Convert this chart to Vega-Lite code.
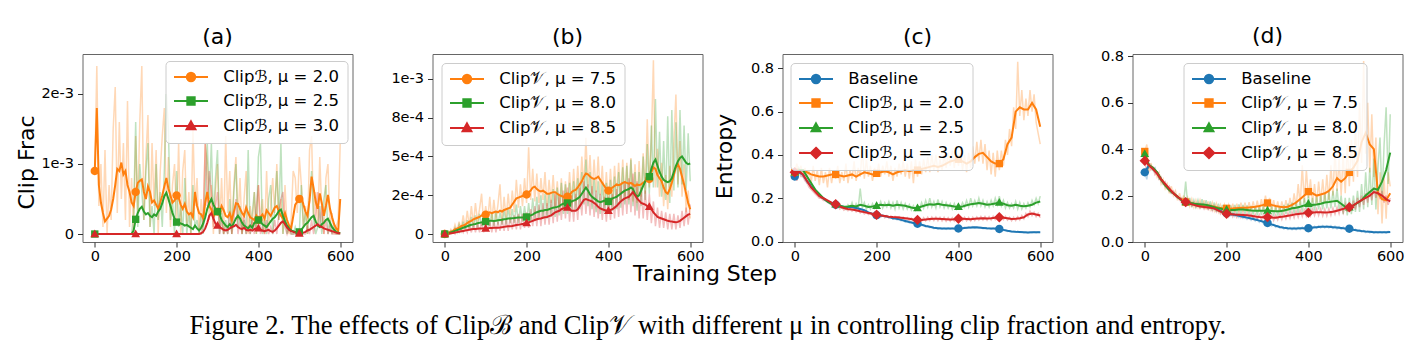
{
"$schema": "https://vega.github.io/schema/vega-lite/v6.json",
"padding": {"left": 14.5, "top": 24, "right": 5, "bottom": 5},
"background": "white",
"spacing": 80,
"bounds": "flush",
"title": {"text": "Figure 2. The effects of Clipℬ and Clip𝒱 with different μ in controlling clip fraction and entropy.", "orient": "bottom", "anchor": "middle", "frame": "bounds", "font": "Liberation Serif", "fontSize": 26.5, "fontWeight": "normal", "color": "#000", "baseline": "alphabetic", "offset": 49, "dx": -2},
"config": {
  "view": {"stroke": "#666", "strokeWidth": 1},
  "font": "DejaVu Sans",
  "axis": {"grid": false, "domain": false, "ticks": true, "tickColor": "#333", "tickSize": 5, "tickWidth": 1, "labelFont": "DejaVu Sans", "labelFontSize": 14.5, "labelColor": "#000", "titleFont": "DejaVu Sans", "titleFontSize": 22, "titleFontWeight": "normal", "titleColor": "#000"},
  "axisX": {"labelPadding": 2},
  "axisY": {"labelPadding": 4},
  "title": {"font": "DejaVu Sans", "fontSize": 22, "fontWeight": "normal", "color": "#000", "offset": 5, "baseline": "alphabetic", "frame": "group", "anchor": "middle"},
  "legend": {"labelFont": "DejaVu Sans", "labelFontSize": 16.5, "labelColor": "#000", "symbolSize": 64, "symbolStrokeWidth": 2, "symbolOffset": 9.5, "labelOffset": 24, "rowPadding": 7, "padding": 7.75, "fillColor": "rgba(255,255,255,0.8)", "strokeColor": "#cccccc", "cornerRadius": 4, "orient": "none"}
},
"datasets": {
"aS": [
{"x":0,"a":9e-4,"b":0,"c":0},{"x":5,"a":18e-4,"b":0,"c":0},{"x":10,"a":7e-4,"b":0,"c":0},{"x":15,"a":4.5e-4,"b":0,"c":0},{"x":20,"a":3e-4,"b":0,"c":0},{"x":25,"a":1.8e-4,"b":0,"c":0},{"x":30,"a":2.2e-4,"b":0,"c":0},{"x":35,"a":2.6e-4,"b":0,"c":0},{"x":40,"a":3.5e-4,"b":0,"c":0},{"x":45,"a":5e-4,"b":0,"c":0},
{"x":50,"a":7e-4,"b":0,"c":0},{"x":55,"a":9.3e-4,"b":0,"c":0},{"x":60,"a":9e-4,"b":0,"c":0},{"x":65,"a":10.2e-4,"b":0,"c":0},{"x":70,"a":8.5e-4,"b":0,"c":0},{"x":75,"a":9e-4,"b":0,"c":0},{"x":80,"a":7e-4,"b":0,"c":0},{"x":85,"a":6e-4,"b":0,"c":0},{"x":90,"a":4.5e-4,"b":0,"c":0},{"x":95,"a":4e-4,"b":0.5e-4,"c":0},
{"x":100,"a":6e-4,"b":2.1e-4,"c":0},{"x":105,"a":7.3e-4,"b":3e-4,"c":0},{"x":110,"a":7.6e-4,"b":3.6e-4,"c":0},{"x":115,"a":7.8e-4,"b":3.9e-4,"c":0},{"x":120,"a":6e-4,"b":3.2e-4,"c":0},{"x":125,"a":5e-4,"b":2.8e-4,"c":0},{"x":130,"a":6.8e-4,"b":3e-4,"c":0},{"x":135,"a":6e-4,"b":2.6e-4,"c":0},{"x":140,"a":4.5e-4,"b":2.4e-4,"c":0},{"x":145,"a":4.8e-4,"b":2.8e-4,"c":0},
{"x":150,"a":4.2e-4,"b":2.6e-4,"c":0},{"x":155,"a":3.6e-4,"b":3.2e-4,"c":0},{"x":160,"a":4.5e-4,"b":3.6e-4,"c":0},{"x":165,"a":5.5e-4,"b":4.4e-4,"c":0},{"x":170,"a":6.8e-4,"b":5.4e-4,"c":0},{"x":175,"a":8e-4,"b":5.9e-4,"c":0},{"x":180,"a":6.5e-4,"b":5e-4,"c":0},{"x":185,"a":5.5e-4,"b":4e-4,"c":0},{"x":190,"a":4.5e-4,"b":3e-4,"c":0},{"x":195,"a":4.8e-4,"b":2.2e-4,"c":0},
{"x":200,"a":5.5e-4,"b":1.7e-4,"c":0},{"x":205,"a":5.2e-4,"b":1.6e-4,"c":0},{"x":210,"a":4.2e-4,"b":1.5e-4,"c":0},{"x":215,"a":3.6e-4,"b":1.4e-4,"c":0},{"x":220,"a":4.3e-4,"b":1.2e-4,"c":0},{"x":225,"a":3.2e-4,"b":1.3e-4,"c":0},{"x":230,"a":2.8e-4,"b":1.1e-4,"c":0},{"x":235,"a":3e-4,"b":0.9e-4,"c":0},{"x":240,"a":2.4e-4,"b":0.7e-4,"c":0},{"x":245,"a":6e-4,"b":1.2e-4,"c":0},
{"x":250,"a":4e-4,"b":0.8e-4,"c":0},{"x":255,"a":3e-4,"b":0.5e-4,"c":0},{"x":260,"a":2.8e-4,"b":0.9e-4,"c":0.1e-4},{"x":265,"a":2.2e-4,"b":1.5e-4,"c":0.3e-4},{"x":270,"a":4.5e-4,"b":2.4e-4,"c":0.8e-4},{"x":275,"a":6e-4,"b":3.6e-4,"c":1.6e-4},{"x":280,"a":4e-4,"b":4.4e-4,"c":2.6e-4},{"x":285,"a":3.5e-4,"b":5e-4,"c":3e-4},{"x":290,"a":2.5e-4,"b":4.2e-4,"c":2.2e-4},{"x":295,"a":3e-4,"b":3.6e-4,"c":1.5e-4},
{"x":300,"a":3.2e-4,"b":3.2e-4,"c":1.2e-4},{"x":305,"a":3e-4,"b":2.8e-4,"c":1e-4},{"x":310,"a":4e-4,"b":2e-4,"c":0.8e-4},{"x":315,"a":3.4e-4,"b":1.6e-4,"c":0.6e-4},{"x":320,"a":2.6e-4,"b":1.2e-4,"c":0.5e-4},{"x":325,"a":2.4e-4,"b":1e-4,"c":0.6e-4},{"x":330,"a":3e-4,"b":1.4e-4,"c":0.8e-4},{"x":335,"a":2e-4,"b":1e-4,"c":1e-4},{"x":340,"a":3.2e-4,"b":1.6e-4,"c":1.1e-4},{"x":345,"a":4.4e-4,"b":2.2e-4,"c":1.3e-4},
{"x":350,"a":4.3e-4,"b":2.6e-4,"c":1e-4},{"x":355,"a":3.6e-4,"b":2.2e-4,"c":0.8e-4},{"x":360,"a":3e-4,"b":1.6e-4,"c":0.7e-4},{"x":365,"a":2.6e-4,"b":1.2e-4,"c":0.9e-4},{"x":370,"a":3.8e-4,"b":1e-4,"c":0.6e-4},{"x":375,"a":3e-4,"b":0.8e-4,"c":0.5e-4},{"x":380,"a":2.4e-4,"b":1.2e-4,"c":0.6e-4},{"x":385,"a":2.2e-4,"b":0.9e-4,"c":0.5e-4},{"x":390,"a":2e-4,"b":1.6e-4,"c":0.7e-4},{"x":395,"a":2.6e-4,"b":1.9e-4,"c":0.8e-4},
{"x":400,"a":2e-4,"b":2e-4,"c":0.8e-4},{"x":405,"a":2.4e-4,"b":1.8e-4,"c":0.6e-4},{"x":410,"a":2.8e-4,"b":1.4e-4,"c":0.5e-4},{"x":415,"a":2.2e-4,"b":1.2e-4,"c":0.4e-4},{"x":420,"a":3.4e-4,"b":1e-4,"c":0.5e-4},{"x":425,"a":3e-4,"b":1.4e-4,"c":0.6e-4},{"x":430,"a":2.6e-4,"b":1.8e-4,"c":0.4e-4},{"x":435,"a":3.2e-4,"b":2.2e-4,"c":0.3e-4},{"x":440,"a":3.8e-4,"b":2.4e-4,"c":0.5e-4},{"x":445,"a":4e-4,"b":2.8e-4,"c":0.8e-4},
{"x":450,"a":3.2e-4,"b":3.3e-4,"c":1.2e-4},{"x":455,"a":2.6e-4,"b":3.5e-4,"c":1.6e-4},{"x":460,"a":2.2e-4,"b":2.6e-4,"c":1.8e-4},{"x":465,"a":3e-4,"b":1.8e-4,"c":1.4e-4},{"x":470,"a":2e-4,"b":1.2e-4,"c":0.9e-4},{"x":475,"a":1.2e-4,"b":0.8e-4,"c":0.6e-4},{"x":480,"a":0.8e-4,"b":0.5e-4,"c":0.4e-4},{"x":485,"a":2.5e-4,"b":0.4e-4,"c":0.3e-4},{"x":490,"a":4.2e-4,"b":0.3e-4,"c":0.2e-4},{"x":495,"a":4.6e-4,"b":0.3e-4,"c":0.1e-4},
{"x":500,"a":5e-4,"b":0.3e-4,"c":0.05e-4},{"x":505,"a":5.3e-4,"b":0.6e-4,"c":0.1e-4},{"x":510,"a":4.2e-4,"b":1e-4,"c":0.2e-4},{"x":515,"a":3.2e-4,"b":1.4e-4,"c":0.3e-4},{"x":520,"a":2.6e-4,"b":1.6e-4,"c":0.5e-4},{"x":525,"a":4.8e-4,"b":2e-4,"c":0.6e-4},{"x":530,"a":8.2e-4,"b":2.4e-4,"c":0.8e-4},{"x":535,"a":6.5e-4,"b":2.6e-4,"c":1e-4},{"x":540,"a":4.6e-4,"b":1.8e-4,"c":1.2e-4},{"x":545,"a":3.6e-4,"b":1.2e-4,"c":1.4e-4},
{"x":550,"a":5.8e-4,"b":1e-4,"c":1.1e-4},{"x":555,"a":4.4e-4,"b":1.4e-4,"c":1e-4},{"x":560,"a":2.6e-4,"b":1.6e-4,"c":0.8e-4},{"x":565,"a":4e-4,"b":2e-4,"c":0.7e-4},{"x":570,"a":5.6e-4,"b":2.2e-4,"c":0.6e-4},{"x":575,"a":3.6e-4,"b":1.6e-4,"c":0.5e-4},{"x":580,"a":2.4e-4,"b":1e-4,"c":0.4e-4},{"x":585,"a":1.4e-4,"b":0.6e-4,"c":0.3e-4},{"x":590,"a":0.8e-4,"b":0.3e-4,"c":0.2e-4},{"x":595,"a":0.4e-4,"b":0.2e-4,"c":0.1e-4},
{"x":600,"a":5e-4,"b":0.1e-4,"c":0.1e-4}
],
"aR": [
{"x":0,"a":9e-4,"b":0,"c":0},{"x":5,"a":24e-4,"b":0,"c":0},{"x":10,"a":4e-4,"b":0,"c":0},{"x":15,"a":10e-4,"b":0,"c":0},{"x":20,"a":1e-4,"b":0,"c":0},{"x":25,"a":12e-4,"b":0,"c":0},{"x":30,"a":0,"b":0,"c":0},{"x":35,"a":7e-4,"b":0,"c":0},{"x":40,"a":2e-4,"b":0,"c":0},{"x":45,"a":15e-4,"b":0,"c":0},
{"x":50,"a":21e-4,"b":0,"c":0},{"x":55,"a":3e-4,"b":0,"c":0},{"x":60,"a":16e-4,"b":0,"c":0},{"x":65,"a":5e-4,"b":0,"c":0},{"x":70,"a":13e-4,"b":0,"c":0},{"x":75,"a":2e-4,"b":0,"c":0},{"x":80,"a":19e-4,"b":0,"c":0},{"x":85,"a":1e-4,"b":0,"c":0},{"x":90,"a":8e-4,"b":0,"c":0},{"x":95,"a":0,"b":3e-4,"c":0},
{"x":100,"a":14e-4,"b":16e-4,"c":0},{"x":105,"a":3e-4,"b":1e-4,"c":0},{"x":110,"a":16e-4,"b":10e-4,"c":0},{"x":115,"a":24e-4,"b":6e-4,"c":0},{"x":120,"a":2e-4,"b":2e-4,"c":0},{"x":125,"a":11e-4,"b":9e-4,"c":0},{"x":130,"a":17e-4,"b":13e-4,"c":0},{"x":135,"a":1e-4,"b":1e-4,"c":0},{"x":140,"a":13e-4,"b":4e-4,"c":0},{"x":145,"a":4e-4,"b":0,"c":0},
{"x":150,"a":12e-4,"b":10e-4,"c":0},{"x":155,"a":0,"b":2e-4,"c":0},{"x":160,"a":9e-4,"b":6e-4,"c":0},{"x":165,"a":14e-4,"b":1e-4,"c":0},{"x":170,"a":18e-4,"b":9e-4,"c":0},{"x":175,"a":3e-4,"b":20e-4,"c":0},{"x":180,"a":11e-4,"b":15e-4,"c":0},{"x":185,"a":1e-4,"b":2e-4,"c":0},{"x":190,"a":7e-4,"b":5e-4,"c":0},{"x":195,"a":10e-4,"b":0,"c":0},
{"x":200,"a":2e-4,"b":9e-4,"c":0},{"x":205,"a":13e-4,"b":1e-4,"c":0},{"x":210,"a":0,"b":4e-4,"c":0},{"x":215,"a":9e-4,"b":0,"c":0},{"x":220,"a":12e-4,"b":8e-4,"c":0},{"x":225,"a":1e-4,"b":0,"c":0},{"x":230,"a":6e-4,"b":3e-4,"c":0},{"x":235,"a":0,"b":0,"c":0},{"x":240,"a":15e-4,"b":7e-4,"c":0},{"x":245,"a":4e-4,"b":1e-4,"c":0},
{"x":250,"a":8e-4,"b":2e-4,"c":0},{"x":255,"a":0,"b":0,"c":0},{"x":260,"a":5e-4,"b":3e-4,"c":0},{"x":265,"a":1e-4,"b":0,"c":2e-4},{"x":270,"a":13e-4,"b":6e-4,"c":13e-4},{"x":275,"a":10e-4,"b":13e-4,"c":4e-4},{"x":280,"a":2e-4,"b":5e-4,"c":9e-4},{"x":285,"a":7e-4,"b":13e-4,"c":6e-4},{"x":290,"a":0,"b":2e-4,"c":1e-4},{"x":295,"a":6e-4,"b":8e-4,"c":4e-4},
{"x":300,"a":10e-4,"b":12e-4,"c":6e-4},{"x":305,"a":1e-4,"b":0,"c":0},{"x":310,"a":8e-4,"b":3e-4,"c":2e-4},{"x":315,"a":0,"b":0,"c":0},{"x":320,"a":14e-4,"b":2e-4,"c":1e-4},{"x":325,"a":3e-4,"b":0,"c":0},{"x":330,"a":9e-4,"b":5e-4,"c":3e-4},{"x":335,"a":0,"b":0,"c":0},{"x":340,"a":7e-4,"b":6e-4,"c":2e-4},{"x":345,"a":11e-4,"b":10e-4,"c":5e-4},
{"x":350,"a":2e-4,"b":1e-4,"c":0},{"x":355,"a":8e-4,"b":4e-4,"c":2e-4},{"x":360,"a":0,"b":0,"c":0},{"x":365,"a":5e-4,"b":2e-4,"c":3e-4},{"x":370,"a":9e-4,"b":0,"c":0},{"x":375,"a":0,"b":12e-4,"c":1e-4},{"x":380,"a":4e-4,"b":0,"c":0},{"x":385,"a":1e-4,"b":3e-4,"c":2e-4},{"x":390,"a":6e-4,"b":6e-4,"c":0},{"x":395,"a":0,"b":0,"c":4e-4},
{"x":400,"a":7e-4,"b":11e-4,"c":7e-4},{"x":405,"a":2e-4,"b":13e-4,"c":0},{"x":410,"a":5e-4,"b":0,"c":1e-4},{"x":415,"a":0,"b":2e-4,"c":0},{"x":420,"a":9e-4,"b":0,"c":2e-4},{"x":425,"a":1e-4,"b":5e-4,"c":0},{"x":430,"a":4e-4,"b":7e-4,"c":1e-4},{"x":435,"a":8e-4,"b":0,"c":0},{"x":440,"a":3e-4,"b":4e-4,"c":2e-4},{"x":445,"a":10e-4,"b":9e-4,"c":0},
{"x":450,"a":2e-4,"b":2e-4,"c":3e-4},{"x":455,"a":5e-4,"b":13e-4,"c":5e-4},{"x":460,"a":0,"b":0,"c":6e-4},{"x":465,"a":7e-4,"b":3e-4,"c":1e-4},{"x":470,"a":1e-4,"b":0,"c":0},{"x":475,"a":0,"b":1e-4,"c":1e-4},{"x":480,"a":2e-4,"b":0,"c":0},{"x":485,"a":9e-4,"b":0,"c":0},{"x":490,"a":8e-4,"b":1e-4,"c":0},{"x":495,"a":3e-4,"b":0,"c":0},
{"x":500,"a":11e-4,"b":0,"c":0},{"x":505,"a":7e-4,"b":7e-4,"c":0},{"x":510,"a":1e-4,"b":1e-4,"c":0},{"x":515,"a":4e-4,"b":3e-4,"c":0},{"x":520,"a":0,"b":0,"c":1e-4},{"x":525,"a":12e-4,"b":5e-4,"c":0},{"x":530,"a":14e-4,"b":9e-4,"c":2e-4},{"x":535,"a":2e-4,"b":2e-4,"c":0},{"x":540,"a":6e-4,"b":0,"c":3e-4},{"x":545,"a":1e-4,"b":1e-4,"c":6e-4},
{"x":550,"a":11e-4,"b":4e-4,"c":1e-4},{"x":555,"a":3e-4,"b":0,"c":4e-4},{"x":560,"a":0,"b":5e-4,"c":0},{"x":565,"a":8e-4,"b":7e-4,"c":2e-4},{"x":570,"a":10e-4,"b":0,"c":0},{"x":575,"a":1e-4,"b":2e-4,"c":1e-4},{"x":580,"a":3e-4,"b":0,"c":0},{"x":585,"a":0,"b":1e-4,"c":0},{"x":590,"a":1e-4,"b":0,"c":0},{"x":595,"a":2e-4,"b":0,"c":0},
{"x":600,"a":13e-4,"b":0,"c":0}
],
"bS": [
{"x":0,"a":0,"b":0,"c":0},{"x":5,"a":0.05e-4,"b":0,"c":0},{"x":10,"a":0.1e-4,"b":0.05e-4,"c":0.02e-4},{"x":15,"a":0.15e-4,"b":0.1e-4,"c":0.05e-4},{"x":20,"a":0.2e-4,"b":0.15e-4,"c":0.07e-4},{"x":25,"a":0.3e-4,"b":0.2e-4,"c":0.1e-4},{"x":30,"a":0.35e-4,"b":0.25e-4,"c":0.12e-4},{"x":35,"a":0.4e-4,"b":0.3e-4,"c":0.15e-4},{"x":40,"a":0.5e-4,"b":0.35e-4,"c":0.18e-4},{"x":45,"a":0.55e-4,"b":0.4e-4,"c":0.2e-4},
{"x":50,"a":0.6e-4,"b":0.45e-4,"c":0.22e-4},{"x":55,"a":0.7e-4,"b":0.5e-4,"c":0.25e-4},{"x":60,"a":0.8e-4,"b":0.55e-4,"c":0.27e-4},{"x":65,"a":0.85e-4,"b":0.6e-4,"c":0.3e-4},{"x":70,"a":0.95e-4,"b":0.62e-4,"c":0.32e-4},{"x":75,"a":1e-4,"b":0.65e-4,"c":0.33e-4},{"x":80,"a":1.05e-4,"b":0.7e-4,"c":0.34e-4},{"x":85,"a":1.1e-4,"b":0.72e-4,"c":0.35e-4},{"x":90,"a":1.2e-4,"b":0.75e-4,"c":0.36e-4},{"x":95,"a":1.2e-4,"b":0.78e-4,"c":0.35e-4},
{"x":100,"a":1.25e-4,"b":0.8e-4,"c":0.35e-4},{"x":105,"a":1.35e-4,"b":0.82e-4,"c":0.36e-4},{"x":110,"a":1.4e-4,"b":0.85e-4,"c":0.38e-4},{"x":115,"a":1.35e-4,"b":0.85e-4,"c":0.38e-4},{"x":120,"a":1.4e-4,"b":0.84e-4,"c":0.4e-4},{"x":125,"a":1.45e-4,"b":0.86e-4,"c":0.4e-4},{"x":130,"a":1.4e-4,"b":0.88e-4,"c":0.41e-4},{"x":135,"a":1.5e-4,"b":0.9e-4,"c":0.42e-4},{"x":140,"a":1.45e-4,"b":0.92e-4,"c":0.44e-4},{"x":145,"a":1.55e-4,"b":0.95e-4,"c":0.46e-4},
{"x":150,"a":1.6e-4,"b":0.97e-4,"c":0.48e-4},{"x":155,"a":1.65e-4,"b":1e-4,"c":0.5e-4},{"x":160,"a":1.7e-4,"b":1e-4,"c":0.5e-4},{"x":165,"a":1.9e-4,"b":1.02e-4,"c":0.52e-4},{"x":170,"a":2.1e-4,"b":1.03e-4,"c":0.55e-4},{"x":175,"a":2.3e-4,"b":1.05e-4,"c":0.58e-4},{"x":180,"a":2.35e-4,"b":1.06e-4,"c":0.6e-4},{"x":185,"a":2.4e-4,"b":1.07e-4,"c":0.62e-4},{"x":190,"a":2.45e-4,"b":1.07e-4,"c":0.65e-4},{"x":195,"a":2.5e-4,"b":1.08e-4,"c":0.68e-4},
{"x":200,"a":2.55e-4,"b":1.1e-4,"c":0.7e-4},{"x":205,"a":2.7e-4,"b":1.15e-4,"c":0.75e-4},{"x":210,"a":2.8e-4,"b":1.2e-4,"c":0.8e-4},{"x":215,"a":3e-4,"b":1.25e-4,"c":0.85e-4},{"x":220,"a":3.05e-4,"b":1.35e-4,"c":0.9e-4},{"x":225,"a":2.9e-4,"b":1.4e-4,"c":0.95e-4},{"x":230,"a":2.8e-4,"b":1.45e-4,"c":0.98e-4},{"x":235,"a":2.75e-4,"b":1.5e-4,"c":1e-4},{"x":240,"a":2.8e-4,"b":1.5e-4,"c":1.05e-4},{"x":245,"a":2.7e-4,"b":1.55e-4,"c":1.08e-4},
{"x":250,"a":2.6e-4,"b":1.55e-4,"c":1.1e-4},{"x":255,"a":2.6e-4,"b":1.6e-4,"c":1.15e-4},{"x":260,"a":2.65e-4,"b":1.65e-4,"c":1.2e-4},{"x":265,"a":2.7e-4,"b":1.7e-4,"c":1.3e-4},{"x":270,"a":2.7e-4,"b":1.72e-4,"c":1.4e-4},{"x":275,"a":2.6e-4,"b":1.75e-4,"c":1.45e-4},{"x":280,"a":2.5e-4,"b":1.8e-4,"c":1.5e-4},{"x":285,"a":2.45e-4,"b":1.9e-4,"c":1.6e-4},{"x":290,"a":2.4e-4,"b":1.95e-4,"c":1.65e-4},{"x":295,"a":2.35e-4,"b":2e-4,"c":1.7e-4},
{"x":300,"a":2.4e-4,"b":2e-4,"c":1.7e-4},{"x":305,"a":2.5e-4,"b":2.05e-4,"c":1.6e-4},{"x":310,"a":2.7e-4,"b":2.1e-4,"c":1.5e-4},{"x":315,"a":2.8e-4,"b":2.15e-4,"c":1.5e-4},{"x":320,"a":2.85e-4,"b":2.2e-4,"c":1.5e-4},{"x":325,"a":3e-4,"b":2.3e-4,"c":1.6e-4},{"x":330,"a":3.2e-4,"b":2.4e-4,"c":1.8e-4},{"x":335,"a":3.4e-4,"b":2.6e-4,"c":2e-4},{"x":340,"a":3.7e-4,"b":2.8e-4,"c":2.2e-4},{"x":345,"a":3.9e-4,"b":3e-4,"c":2.25e-4},
{"x":350,"a":3.85e-4,"b":2.8e-4,"c":2.2e-4},{"x":355,"a":3.7e-4,"b":2.55e-4,"c":2.15e-4},{"x":360,"a":3.6e-4,"b":2.4e-4,"c":2.1e-4},{"x":365,"a":3.55e-4,"b":2.3e-4,"c":2e-4},{"x":370,"a":3.6e-4,"b":2.2e-4,"c":1.9e-4},{"x":375,"a":3.7e-4,"b":2.1e-4,"c":1.75e-4},{"x":380,"a":3.5e-4,"b":2.05e-4,"c":1.65e-4},{"x":385,"a":3.3e-4,"b":2.1e-4,"c":1.6e-4},{"x":390,"a":3.1e-4,"b":2.15e-4,"c":1.55e-4},{"x":395,"a":2.9e-4,"b":2.1e-4,"c":1.5e-4},
{"x":400,"a":2.8e-4,"b":2.1e-4,"c":1.5e-4},{"x":405,"a":2.9e-4,"b":2.2e-4,"c":1.55e-4},{"x":410,"a":3e-4,"b":2.3e-4,"c":1.6e-4},{"x":415,"a":3.1e-4,"b":2.35e-4,"c":1.7e-4},{"x":420,"a":3.2e-4,"b":2.4e-4,"c":1.8e-4},{"x":425,"a":3.15e-4,"b":2.5e-4,"c":1.95e-4},{"x":430,"a":3.2e-4,"b":2.6e-4,"c":2.1e-4},{"x":435,"a":3.3e-4,"b":2.7e-4,"c":2.2e-4},{"x":440,"a":3.35e-4,"b":2.8e-4,"c":2.3e-4},{"x":445,"a":3.3e-4,"b":2.85e-4,"c":2.35e-4},
{"x":450,"a":3.25e-4,"b":2.9e-4,"c":2.4e-4},{"x":455,"a":3.3e-4,"b":3e-4,"c":2.55e-4},{"x":460,"a":3.2e-4,"b":2.9e-4,"c":2.7e-4},{"x":465,"a":3.1e-4,"b":2.6e-4,"c":2.5e-4},{"x":470,"a":3.2e-4,"b":2.4e-4,"c":2.3e-4},{"x":475,"a":3.15e-4,"b":2.5e-4,"c":2.15e-4},{"x":480,"a":3.2e-4,"b":2.8e-4,"c":2e-4},{"x":485,"a":3.3e-4,"b":3.1e-4,"c":1.95e-4},{"x":490,"a":3.4e-4,"b":3.4e-4,"c":1.9e-4},{"x":495,"a":3.5e-4,"b":3.6e-4,"c":1.8e-4},
{"x":500,"a":3.55e-4,"b":3.7e-4,"c":1.75e-4},{"x":505,"a":4e-4,"b":4.2e-4,"c":1.6e-4},{"x":510,"a":4.3e-4,"b":4.6e-4,"c":1.4e-4},{"x":515,"a":4.2e-4,"b":4.8e-4,"c":1.25e-4},{"x":520,"a":3.8e-4,"b":4.4e-4,"c":1.1e-4},{"x":525,"a":3.6e-4,"b":4e-4,"c":1.05e-4},{"x":530,"a":3.4e-4,"b":3.7e-4,"c":1e-4},{"x":535,"a":3e-4,"b":3.5e-4,"c":0.95e-4},{"x":540,"a":2.7e-4,"b":3.4e-4,"c":0.9e-4},{"x":545,"a":2.6e-4,"b":3.35e-4,"c":0.85e-4},
{"x":550,"a":2.9e-4,"b":3.4e-4,"c":0.82e-4},{"x":555,"a":3.3e-4,"b":3.6e-4,"c":0.8e-4},{"x":560,"a":3.8e-4,"b":4e-4,"c":0.78e-4},{"x":565,"a":4.3e-4,"b":4.4e-4,"c":0.76e-4},{"x":570,"a":4.5e-4,"b":4.7e-4,"c":0.78e-4},{"x":575,"a":4.2e-4,"b":4.9e-4,"c":0.85e-4},{"x":580,"a":3.7e-4,"b":5e-4,"c":0.95e-4},{"x":585,"a":3.2e-4,"b":4.8e-4,"c":1.05e-4},{"x":590,"a":2.6e-4,"b":4.6e-4,"c":1.15e-4},{"x":595,"a":2e-4,"b":4.5e-4,"c":1.25e-4},
{"x":600,"a":1.6e-4,"b":4.55e-4,"c":1.3e-4}
],
"bR": [
{"x":0,"a":0,"b":0,"c":0},{"x":5,"a":0.1e-4,"b":0.1e-4,"c":0},{"x":10,"a":0,"b":0,"c":0.1e-4},{"x":15,"a":0.3e-4,"b":0.2e-4,"c":0},{"x":20,"a":0.1e-4,"b":0.1e-4,"c":0.2e-4},{"x":25,"a":0.6e-4,"b":0.4e-4,"c":0},{"x":30,"a":0.2e-4,"b":0.1e-4,"c":0.3e-4},{"x":35,"a":0.8e-4,"b":0.6e-4,"c":0.1e-4},{"x":40,"a":0.3e-4,"b":0.2e-4,"c":0.4e-4},{"x":45,"a":1.2e-4,"b":0.8e-4,"c":0.1e-4},
{"x":50,"a":0.4e-4,"b":0.3e-4,"c":0.5e-4},{"x":55,"a":1.5e-4,"b":0.9e-4,"c":0.1e-4},{"x":60,"a":0.5e-4,"b":0.3e-4,"c":0.6e-4},{"x":65,"a":1.8e-4,"b":1.1e-4,"c":0.1e-4},{"x":70,"a":0.6e-4,"b":0.4e-4,"c":0.7e-4},{"x":75,"a":2e-4,"b":1.2e-4,"c":0.1e-4},{"x":80,"a":0.8e-4,"b":0.4e-4,"c":0.7e-4},{"x":85,"a":1.6e-4,"b":1.3e-4,"c":0.1e-4},{"x":90,"a":2.6e-4,"b":0.5e-4,"c":0.8e-4},{"x":95,"a":0.7e-4,"b":1.4e-4,"c":0.1e-4},
{"x":100,"a":1.8e-4,"b":0.5e-4,"c":0.7e-4},{"x":105,"a":0.9e-4,"b":1.3e-4,"c":0.2e-4},{"x":110,"a":2.4e-4,"b":0.5e-4,"c":0.8e-4},{"x":115,"a":0.8e-4,"b":1.4e-4,"c":0.1e-4},{"x":120,"a":2.2e-4,"b":0.5e-4,"c":0.9e-4},{"x":125,"a":0.9e-4,"b":1.5e-4,"c":0.1e-4},{"x":130,"a":1.9e-4,"b":0.6e-4,"c":0.8e-4},{"x":135,"a":3.2e-4,"b":1.4e-4,"c":0.2e-4},{"x":140,"a":0.8e-4,"b":0.6e-4,"c":1e-4},{"x":145,"a":2.4e-4,"b":1.6e-4,"c":0.2e-4},
{"x":150,"a":1e-4,"b":0.6e-4,"c":1e-4},{"x":155,"a":2.6e-4,"b":1.7e-4,"c":0.2e-4},{"x":160,"a":1.2e-4,"b":0.7e-4,"c":1.1e-4},{"x":165,"a":2.8e-4,"b":1.6e-4,"c":0.3e-4},{"x":170,"a":1.4e-4,"b":0.7e-4,"c":1.2e-4},{"x":175,"a":3.5e-4,"b":1.9e-4,"c":0.3e-4},{"x":180,"a":1.7e-4,"b":0.7e-4,"c":1.3e-4},{"x":185,"a":3.2e-4,"b":1.8e-4,"c":0.3e-4},{"x":190,"a":1.8e-4,"b":0.8e-4,"c":1.3e-4},{"x":195,"a":3.6e-4,"b":1.8e-4,"c":0.4e-4},
{"x":200,"a":2e-4,"b":0.7e-4,"c":1.4e-4},{"x":205,"a":5.6e-4,"b":2e-4,"c":0.4e-4},{"x":210,"a":2.2e-4,"b":0.8e-4,"c":1.6e-4},{"x":215,"a":4.2e-4,"b":2.3e-4,"c":0.5e-4},{"x":220,"a":2.1e-4,"b":0.9e-4,"c":1.8e-4},{"x":225,"a":3.9e-4,"b":2.4e-4,"c":0.5e-4},{"x":230,"a":2e-4,"b":1e-4,"c":1.9e-4},{"x":235,"a":3.6e-4,"b":2.5e-4,"c":0.5e-4},{"x":240,"a":2.2e-4,"b":1e-4,"c":2e-4},{"x":245,"a":4e-4,"b":2.6e-4,"c":0.6e-4},
{"x":250,"a":1.8e-4,"b":1e-4,"c":2e-4},{"x":255,"a":3.5e-4,"b":2.6e-4,"c":0.6e-4},{"x":260,"a":2e-4,"b":1.1e-4,"c":2.2e-4},{"x":265,"a":3.8e-4,"b":2.9e-4,"c":0.7e-4},{"x":270,"a":1.8e-4,"b":1.1e-4,"c":2.6e-4},{"x":275,"a":3.4e-4,"b":3e-4,"c":0.8e-4},{"x":280,"a":1.6e-4,"b":1.2e-4,"c":2.6e-4},{"x":285,"a":3.6e-4,"b":3.3e-4,"c":0.9e-4},{"x":290,"a":1.5e-4,"b":1.3e-4,"c":2.8e-4},{"x":295,"a":3.4e-4,"b":3.2e-4,"c":1e-4},
{"x":300,"a":1.7e-4,"b":1.3e-4,"c":3e-4},{"x":305,"a":4e-4,"b":3.3e-4,"c":0.8e-4},{"x":310,"a":1.9e-4,"b":1.4e-4,"c":2.5e-4},{"x":315,"a":4.2e-4,"b":3.4e-4,"c":0.8e-4},{"x":320,"a":2.1e-4,"b":1.5e-4,"c":2.6e-4},{"x":325,"a":4.4e-4,"b":3.6e-4,"c":0.9e-4},{"x":330,"a":2.4e-4,"b":1.6e-4,"c":3e-4},{"x":335,"a":5e-4,"b":4e-4,"c":1.2e-4},{"x":340,"a":2.9e-4,"b":1.9e-4,"c":3.4e-4},{"x":345,"a":6.2e-4,"b":4.8e-4,"c":1.3e-4},
{"x":350,"a":3e-4,"b":1.8e-4,"c":3.2e-4},{"x":355,"a":5.1e-4,"b":4e-4,"c":1.2e-4},{"x":360,"a":2.6e-4,"b":1.6e-4,"c":3.1e-4},{"x":365,"a":4.8e-4,"b":3.6e-4,"c":1.1e-4},{"x":370,"a":2.7e-4,"b":1.4e-4,"c":2.8e-4},{"x":375,"a":5e-4,"b":3.4e-4,"c":1e-4},{"x":380,"a":2.5e-4,"b":1.3e-4,"c":2.6e-4},{"x":385,"a":4.4e-4,"b":3.3e-4,"c":0.9e-4},{"x":390,"a":2e-4,"b":1.4e-4,"c":2.4e-4},{"x":395,"a":4e-4,"b":3.3e-4,"c":0.8e-4},
{"x":400,"a":1.9e-4,"b":1.3e-4,"c":2.4e-4},{"x":405,"a":4.2e-4,"b":3.5e-4,"c":0.9e-4},{"x":410,"a":2.1e-4,"b":1.5e-4,"c":2.6e-4},{"x":415,"a":4.4e-4,"b":3.7e-4,"c":1e-4},{"x":420,"a":2.4e-4,"b":1.6e-4,"c":2.9e-4},{"x":425,"a":4.6e-4,"b":4e-4,"c":1.1e-4},{"x":430,"a":2.2e-4,"b":1.7e-4,"c":3.2e-4},{"x":435,"a":4.8e-4,"b":4.3e-4,"c":1.2e-4},{"x":440,"a":2.4e-4,"b":1.9e-4,"c":3.4e-4},{"x":445,"a":4.6e-4,"b":4.4e-4,"c":1.3e-4},
{"x":450,"a":2.2e-4,"b":1.9e-4,"c":3.6e-4},{"x":455,"a":4.9e-4,"b":4.8e-4,"c":1.4e-4},{"x":460,"a":2.1e-4,"b":1.8e-4,"c":3.9e-4},{"x":465,"a":4.5e-4,"b":4e-4,"c":1.2e-4},{"x":470,"a":2e-4,"b":1.5e-4,"c":3.4e-4},{"x":475,"a":4.7e-4,"b":4e-4,"c":1e-4},{"x":480,"a":2.4e-4,"b":1.8e-4,"c":3e-4},{"x":485,"a":5.2e-4,"b":5e-4,"c":1e-4},{"x":490,"a":2.6e-4,"b":2.2e-4,"c":2.8e-4},{"x":495,"a":7.4e-4,"b":5.8e-4,"c":0.9e-4},
{"x":500,"a":3e-4,"b":2.6e-4,"c":2.6e-4},{"x":505,"a":6e-4,"b":7e-4,"c":0.7e-4},{"x":510,"a":11.2e-4,"b":3e-4,"c":2.1e-4},{"x":515,"a":3e-4,"b":8.7e-4,"c":0.5e-4},{"x":520,"a":5.5e-4,"b":3e-4,"c":1.7e-4},{"x":525,"a":2.4e-4,"b":6.6e-4,"c":0.4e-4},{"x":530,"a":4.6e-4,"b":2.4e-4,"c":1.5e-4},{"x":535,"a":1.8e-4,"b":6e-4,"c":0.4e-4},{"x":540,"a":3.8e-4,"b":2.2e-4,"c":1.4e-4},{"x":545,"a":1.6e-4,"b":7.6e-4,"c":0.3e-4},
{"x":550,"a":4.4e-4,"b":2e-4,"c":1.3e-4},{"x":555,"a":2.4e-4,"b":8e-4,"c":0.3e-4},{"x":560,"a":6e-4,"b":2.8e-4,"c":1.3e-4},{"x":565,"a":9e-4,"b":7.2e-4,"c":0.3e-4},{"x":570,"a":3.2e-4,"b":3e-4,"c":1.2e-4},{"x":575,"a":6e-4,"b":8e-4,"c":0.4e-4},{"x":580,"a":2.4e-4,"b":3.2e-4,"c":1.5e-4},{"x":585,"a":4.5e-4,"b":7e-4,"c":0.5e-4},{"x":590,"a":1.4e-4,"b":2.8e-4,"c":1.7e-4},{"x":595,"a":2.8e-4,"b":6.5e-4,"c":0.6e-4},
{"x":600,"a":1e-4,"b":3.4e-4,"c":1.9e-4}
],
"cS": [
{"x":0,"a":0.3,"b":0.32,"c":0.32,"d":0.32},{"x":10,"a":0.32,"b":0.33,"c":0.33,"d":0.325},{"x":20,"a":0.31,"b":0.33,"c":0.33,"d":0.31},{"x":30,"a":0.28,"b":0.32,"c":0.3,"d":0.28},{"x":40,"a":0.255,"b":0.31,"c":0.27,"d":0.25},{"x":50,"a":0.235,"b":0.305,"c":0.24,"d":0.23},{"x":60,"a":0.215,"b":0.3,"c":0.22,"d":0.21},{"x":70,"a":0.2,"b":0.3,"c":0.2,"d":0.2},{"x":80,"a":0.185,"b":0.305,"c":0.185,"d":0.19},{"x":90,"a":0.175,"b":0.31,"c":0.175,"d":0.18},
{"x":100,"a":0.17,"b":0.31,"c":0.172,"d":0.172},{"x":110,"a":0.165,"b":0.305,"c":0.165,"d":0.162},{"x":120,"a":0.16,"b":0.3,"c":0.16,"d":0.155},{"x":130,"a":0.16,"b":0.305,"c":0.162,"d":0.15},{"x":140,"a":0.16,"b":0.31,"c":0.165,"d":0.148},{"x":150,"a":0.155,"b":0.3,"c":0.162,"d":0.145},{"x":160,"a":0.15,"b":0.31,"c":0.17,"d":0.14},{"x":170,"a":0.145,"b":0.32,"c":0.165,"d":0.136},{"x":180,"a":0.135,"b":0.315,"c":0.16,"d":0.132},{"x":190,"a":0.128,"b":0.31,"c":0.162,"d":0.128},
{"x":200,"a":0.122,"b":0.315,"c":0.165,"d":0.124},{"x":210,"a":0.12,"b":0.32,"c":0.17,"d":0.12},{"x":220,"a":0.118,"b":0.325,"c":0.168,"d":0.118},{"x":230,"a":0.113,"b":0.32,"c":0.17,"d":0.115},{"x":240,"a":0.108,"b":0.31,"c":0.165,"d":0.113},{"x":250,"a":0.105,"b":0.32,"c":0.17,"d":0.112},{"x":260,"a":0.1,"b":0.325,"c":0.168,"d":0.11},{"x":270,"a":0.095,"b":0.33,"c":0.165,"d":0.108},{"x":280,"a":0.09,"b":0.325,"c":0.16,"d":0.105},{"x":290,"a":0.086,"b":0.33,"c":0.155,"d":0.102},
{"x":300,"a":0.082,"b":0.33,"c":0.155,"d":0.1},{"x":310,"a":0.078,"b":0.335,"c":0.162,"d":0.1},{"x":320,"a":0.072,"b":0.34,"c":0.168,"d":0.102},{"x":330,"a":0.068,"b":0.345,"c":0.172,"d":0.104},{"x":340,"a":0.064,"b":0.35,"c":0.17,"d":0.105},{"x":350,"a":0.062,"b":0.345,"c":0.175,"d":0.105},{"x":360,"a":0.06,"b":0.35,"c":0.17,"d":0.104},{"x":370,"a":0.06,"b":0.36,"c":0.168,"d":0.103},{"x":380,"a":0.06,"b":0.37,"c":0.165,"d":0.102},{"x":390,"a":0.06,"b":0.375,"c":0.162,"d":0.103},
{"x":400,"a":0.06,"b":0.38,"c":0.16,"d":0.105},{"x":410,"a":0.062,"b":0.37,"c":0.162,"d":0.105},{"x":420,"a":0.064,"b":0.36,"c":0.168,"d":0.104},{"x":430,"a":0.065,"b":0.37,"c":0.172,"d":0.103},{"x":440,"a":0.066,"b":0.39,"c":0.175,"d":0.105},{"x":450,"a":0.065,"b":0.405,"c":0.178,"d":0.107},{"x":460,"a":0.063,"b":0.41,"c":0.175,"d":0.108},{"x":470,"a":0.061,"b":0.39,"c":0.17,"d":0.107},{"x":480,"a":0.06,"b":0.37,"c":0.172,"d":0.108},{"x":490,"a":0.06,"b":0.36,"c":0.176,"d":0.11},
{"x":500,"a":0.058,"b":0.36,"c":0.18,"d":0.112},{"x":510,"a":0.054,"b":0.38,"c":0.175,"d":0.11},{"x":520,"a":0.05,"b":0.45,"c":0.168,"d":0.108},{"x":530,"a":0.047,"b":0.48,"c":0.165,"d":0.104},{"x":540,"a":0.045,"b":0.6,"c":0.17,"d":0.105},{"x":550,"a":0.044,"b":0.62,"c":0.165,"d":0.108},{"x":560,"a":0.043,"b":0.61,"c":0.163,"d":0.112},{"x":570,"a":0.042,"b":0.61,"c":0.165,"d":0.125},{"x":580,"a":0.043,"b":0.64,"c":0.17,"d":0.13},{"x":590,"a":0.043,"b":0.61,"c":0.18,"d":0.125},
{"x":600,"a":0.043,"b":0.53,"c":0.185,"d":0.12}
],
"cR": [
{"x":0,"a":0.3,"b":0.32,"c":0.32,"d":0.32},{"x":5,"a":0.29,"b":0.36,"c":0.3,"d":0.28},{"x":10,"a":0.33,"b":0.31,"c":0.34,"d":0.33},{"x":15,"a":0.31,"b":0.35,"c":0.32,"d":0.3},{"x":20,"a":0.3,"b":0.3,"c":0.33,"d":0.3},{"x":25,"a":0.29,"b":0.34,"c":0.31,"d":0.28},{"x":30,"a":0.27,"b":0.29,"c":0.3,"d":0.27},{"x":35,"a":0.27,"b":0.33,"c":0.28,"d":0.25},{"x":40,"a":0.25,"b":0.27,"c":0.27,"d":0.24},{"x":45,"a":0.245,"b":0.35,"c":0.25,"d":0.23},
{"x":50,"a":0.23,"b":0.28,"c":0.24,"d":0.22},{"x":55,"a":0.225,"b":0.33,"c":0.23,"d":0.21},{"x":60,"a":0.21,"b":0.26,"c":0.22,"d":0.2},{"x":65,"a":0.205,"b":0.34,"c":0.2,"d":0.2},{"x":70,"a":0.195,"b":0.27,"c":0.2,"d":0.19},{"x":75,"a":0.19,"b":0.32,"c":0.19,"d":0.19},{"x":80,"a":0.185,"b":0.25,"c":0.185,"d":0.18},{"x":85,"a":0.175,"b":0.34,"c":0.175,"d":0.18},{"x":90,"a":0.172,"b":0.27,"c":0.18,"d":0.17},{"x":95,"a":0.168,"b":0.33,"c":0.165,"d":0.175},
{"x":100,"a":0.165,"b":0.29,"c":0.175,"d":0.16},{"x":105,"a":0.17,"b":0.35,"c":0.16,"d":0.165},{"x":110,"a":0.16,"b":0.27,"c":0.17,"d":0.15},{"x":115,"a":0.165,"b":0.32,"c":0.155,"d":0.158},{"x":120,"a":0.155,"b":0.28,"c":0.165,"d":0.145},{"x":125,"a":0.162,"b":0.36,"c":0.15,"d":0.152},{"x":130,"a":0.158,"b":0.27,"c":0.17,"d":0.142},{"x":135,"a":0.163,"b":0.33,"c":0.155,"d":0.15},{"x":140,"a":0.155,"b":0.29,"c":0.18,"d":0.14},{"x":145,"a":0.16,"b":0.37,"c":0.15,"d":0.148},
{"x":150,"a":0.15,"b":0.28,"c":0.175,"d":0.137},{"x":155,"a":0.156,"b":0.34,"c":0.155,"d":0.145},{"x":160,"a":0.146,"b":0.3,"c":0.245,"d":0.132},{"x":165,"a":0.15,"b":0.43,"c":0.155,"d":0.14},{"x":170,"a":0.14,"b":0.29,"c":0.18,"d":0.128},{"x":175,"a":0.142,"b":0.38,"c":0.15,"d":0.136},{"x":180,"a":0.13,"b":0.3,"c":0.17,"d":0.125},{"x":185,"a":0.132,"b":0.35,"c":0.15,"d":0.13},{"x":190,"a":0.125,"b":0.28,"c":0.175,"d":0.12},{"x":195,"a":0.128,"b":0.34,"c":0.155,"d":0.128},
{"x":200,"a":0.118,"b":0.3,"c":0.18,"d":0.116},{"x":205,"a":0.124,"b":0.36,"c":0.16,"d":0.124},{"x":210,"a":0.116,"b":0.3,"c":0.185,"d":0.113},{"x":215,"a":0.122,"b":0.35,"c":0.155,"d":0.122},{"x":220,"a":0.114,"b":0.31,"c":0.18,"d":0.11},{"x":225,"a":0.118,"b":0.37,"c":0.16,"d":0.12},{"x":230,"a":0.11,"b":0.3,"c":0.185,"d":0.108},{"x":235,"a":0.114,"b":0.35,"c":0.155,"d":0.118},{"x":240,"a":0.104,"b":0.28,"c":0.18,"d":0.105},{"x":245,"a":0.11,"b":0.34,"c":0.15,"d":0.116},
{"x":250,"a":0.1,"b":0.3,"c":0.19,"d":0.104},{"x":255,"a":0.106,"b":0.36,"c":0.155,"d":0.115},{"x":260,"a":0.096,"b":0.31,"c":0.18,"d":0.102},{"x":265,"a":0.1,"b":0.37,"c":0.15,"d":0.113},{"x":270,"a":0.09,"b":0.3,"c":0.175,"d":0.1},{"x":275,"a":0.095,"b":0.36,"c":0.15,"d":0.11},{"x":280,"a":0.086,"b":0.29,"c":0.17,"d":0.097},{"x":285,"a":0.09,"b":0.37,"c":0.145,"d":0.108},{"x":290,"a":0.082,"b":0.27,"c":0.165,"d":0.094},{"x":295,"a":0.088,"b":0.38,"c":0.145,"d":0.105},
{"x":300,"a":0.078,"b":0.3,"c":0.165,"d":0.092},{"x":305,"a":0.082,"b":0.37,"c":0.15,"d":0.108},{"x":310,"a":0.074,"b":0.31,"c":0.18,"d":0.094},{"x":315,"a":0.077,"b":0.38,"c":0.155,"d":0.11},{"x":320,"a":0.068,"b":0.32,"c":0.19,"d":0.096},{"x":325,"a":0.072,"b":0.39,"c":0.16,"d":0.112},{"x":330,"a":0.064,"b":0.32,"c":0.2,"d":0.097},{"x":335,"a":0.068,"b":0.4,"c":0.16,"d":0.113},{"x":340,"a":0.06,"b":0.33,"c":0.185,"d":0.097},{"x":345,"a":0.065,"b":0.4,"c":0.155,"d":0.113},
{"x":350,"a":0.058,"b":0.32,"c":0.195,"d":0.096},{"x":355,"a":0.063,"b":0.38,"c":0.16,"d":0.112},{"x":360,"a":0.057,"b":0.33,"c":0.185,"d":0.095},{"x":365,"a":0.062,"b":0.4,"c":0.155,"d":0.112},{"x":370,"a":0.056,"b":0.34,"c":0.18,"d":0.094},{"x":375,"a":0.063,"b":0.41,"c":0.155,"d":0.11},{"x":380,"a":0.057,"b":0.35,"c":0.175,"d":0.094},{"x":385,"a":0.062,"b":0.42,"c":0.15,"d":0.11},{"x":390,"a":0.056,"b":0.34,"c":0.175,"d":0.095},{"x":395,"a":0.063,"b":0.43,"c":0.15,"d":0.112},
{"x":400,"a":0.057,"b":0.35,"c":0.17,"d":0.097},{"x":405,"a":0.064,"b":0.41,"c":0.155,"d":0.113},{"x":410,"a":0.059,"b":0.33,"c":0.18,"d":0.097},{"x":415,"a":0.067,"b":0.4,"c":0.16,"d":0.112},{"x":420,"a":0.061,"b":0.32,"c":0.19,"d":0.096},{"x":425,"a":0.068,"b":0.41,"c":0.16,"d":0.111},{"x":430,"a":0.062,"b":0.34,"c":0.2,"d":0.095},{"x":435,"a":0.069,"b":0.44,"c":0.165,"d":0.112},{"x":440,"a":0.063,"b":0.36,"c":0.19,"d":0.097},{"x":445,"a":0.068,"b":0.46,"c":0.165,"d":0.114},
{"x":450,"a":0.062,"b":0.37,"c":0.2,"d":0.099},{"x":455,"a":0.066,"b":0.47,"c":0.165,"d":0.116},{"x":460,"a":0.06,"b":0.36,"c":0.19,"d":0.1},{"x":465,"a":0.064,"b":0.45,"c":0.16,"d":0.116},{"x":470,"a":0.058,"b":0.33,"c":0.185,"d":0.099},{"x":475,"a":0.062,"b":0.42,"c":0.16,"d":0.115},{"x":480,"a":0.057,"b":0.31,"c":0.19,"d":0.1},{"x":485,"a":0.062,"b":0.41,"c":0.165,"d":0.117},{"x":490,"a":0.056,"b":0.3,"c":0.2,"d":0.102},{"x":495,"a":0.06,"b":0.42,"c":0.17,"d":0.12},
{"x":500,"a":0.055,"b":0.33,"c":0.21,"d":0.104},{"x":505,"a":0.056,"b":0.42,"c":0.165,"d":0.118},{"x":510,"a":0.051,"b":0.35,"c":0.19,"d":0.102},{"x":515,"a":0.052,"b":0.47,"c":0.155,"d":0.116},{"x":520,"a":0.047,"b":0.4,"c":0.18,"d":0.099},{"x":525,"a":0.049,"b":0.52,"c":0.155,"d":0.112},{"x":530,"a":0.045,"b":0.44,"c":0.175,"d":0.096},{"x":535,"a":0.047,"b":0.62,"c":0.155,"d":0.112},{"x":540,"a":0.043,"b":0.52,"c":0.185,"d":0.097},{"x":545,"a":0.046,"b":0.83,"c":0.15,"d":0.115},
{"x":550,"a":0.042,"b":0.58,"c":0.18,"d":0.1},{"x":555,"a":0.045,"b":0.7,"c":0.15,"d":0.12},{"x":560,"a":0.041,"b":0.56,"c":0.175,"d":0.105},{"x":565,"a":0.044,"b":0.66,"c":0.155,"d":0.13},{"x":570,"a":0.04,"b":0.58,"c":0.18,"d":0.115},{"x":575,"a":0.044,"b":0.7,"c":0.16,"d":0.14},{"x":580,"a":0.041,"b":0.6,"c":0.19,"d":0.12},{"x":585,"a":0.045,"b":0.68,"c":0.17,"d":0.135},{"x":590,"a":0.041,"b":0.55,"c":0.2,"d":0.115},{"x":595,"a":0.045,"b":0.5,"c":0.175,"d":0.13},
{"x":600,"a":0.042,"b":0.45,"c":0.21,"d":0.11}
],
"dS": [
{"x":0,"a":0.3,"b":0.39,"c":0.38,"d":0.35},{"x":10,"a":0.33,"b":0.33,"c":0.33,"d":0.33},{"x":20,"a":0.32,"b":0.32,"c":0.32,"d":0.315},{"x":30,"a":0.3,"b":0.3,"c":0.3,"d":0.295},{"x":40,"a":0.27,"b":0.27,"c":0.27,"d":0.27},{"x":50,"a":0.245,"b":0.245,"c":0.245,"d":0.25},{"x":60,"a":0.225,"b":0.225,"c":0.225,"d":0.23},{"x":70,"a":0.21,"b":0.21,"c":0.21,"d":0.21},{"x":80,"a":0.195,"b":0.195,"c":0.195,"d":0.195},{"x":90,"a":0.18,"b":0.18,"c":0.18,"d":0.182},
{"x":100,"a":0.172,"b":0.172,"c":0.172,"d":0.172},{"x":110,"a":0.168,"b":0.168,"c":0.168,"d":0.165},{"x":120,"a":0.165,"b":0.165,"c":0.165,"d":0.16},{"x":130,"a":0.163,"b":0.162,"c":0.163,"d":0.155},{"x":140,"a":0.16,"b":0.16,"c":0.162,"d":0.152},{"x":150,"a":0.158,"b":0.158,"c":0.16,"d":0.15},{"x":160,"a":0.152,"b":0.155,"c":0.155,"d":0.148},{"x":170,"a":0.145,"b":0.152,"c":0.15,"d":0.145},{"x":180,"a":0.138,"b":0.148,"c":0.145,"d":0.135},{"x":190,"a":0.13,"b":0.145,"c":0.142,"d":0.128},
{"x":200,"a":0.124,"b":0.145,"c":0.14,"d":0.122},{"x":210,"a":0.12,"b":0.143,"c":0.138,"d":0.12},{"x":220,"a":0.117,"b":0.145,"c":0.138,"d":0.118},{"x":230,"a":0.113,"b":0.147,"c":0.14,"d":0.117},{"x":240,"a":0.109,"b":0.148,"c":0.14,"d":0.116},{"x":250,"a":0.105,"b":0.148,"c":0.138,"d":0.115},{"x":260,"a":0.101,"b":0.15,"c":0.136,"d":0.113},{"x":270,"a":0.097,"b":0.152,"c":0.135,"d":0.11},{"x":280,"a":0.092,"b":0.155,"c":0.135,"d":0.108},{"x":290,"a":0.087,"b":0.16,"c":0.135,"d":0.107},
{"x":300,"a":0.082,"b":0.168,"c":0.136,"d":0.107},{"x":310,"a":0.076,"b":0.16,"c":0.134,"d":0.106},{"x":320,"a":0.07,"b":0.155,"c":0.132,"d":0.105},{"x":330,"a":0.065,"b":0.152,"c":0.133,"d":0.108},{"x":340,"a":0.061,"b":0.15,"c":0.136,"d":0.11},{"x":350,"a":0.059,"b":0.152,"c":0.14,"d":0.113},{"x":360,"a":0.058,"b":0.16,"c":0.145,"d":0.116},{"x":370,"a":0.058,"b":0.17,"c":0.148,"d":0.12},{"x":380,"a":0.059,"b":0.185,"c":0.152,"d":0.122},{"x":390,"a":0.059,"b":0.2,"c":0.158,"d":0.124},
{"x":400,"a":0.059,"b":0.217,"c":0.165,"d":0.126},{"x":410,"a":0.062,"b":0.21,"c":0.16,"d":0.127},{"x":420,"a":0.064,"b":0.2,"c":0.162,"d":0.128},{"x":430,"a":0.066,"b":0.205,"c":0.165,"d":0.128},{"x":440,"a":0.066,"b":0.21,"c":0.17,"d":0.127},{"x":450,"a":0.066,"b":0.22,"c":0.172,"d":0.128},{"x":460,"a":0.064,"b":0.24,"c":0.175,"d":0.13},{"x":470,"a":0.062,"b":0.275,"c":0.178,"d":0.135},{"x":480,"a":0.06,"b":0.26,"c":0.165,"d":0.14},{"x":490,"a":0.058,"b":0.275,"c":0.152,"d":0.145},
{"x":500,"a":0.057,"b":0.3,"c":0.15,"d":0.15},{"x":510,"a":0.053,"b":0.32,"c":0.158,"d":0.158},{"x":520,"a":0.05,"b":0.35,"c":0.168,"d":0.17},{"x":530,"a":0.047,"b":0.43,"c":0.18,"d":0.18},{"x":540,"a":0.045,"b":0.47,"c":0.2,"d":0.19},{"x":550,"a":0.044,"b":0.42,"c":0.215,"d":0.2},{"x":560,"a":0.042,"b":0.4,"c":0.23,"d":0.215},{"x":570,"a":0.042,"b":0.21,"c":0.225,"d":0.21},{"x":580,"a":0.042,"b":0.185,"c":0.26,"d":0.2},{"x":590,"a":0.042,"b":0.18,"c":0.31,"d":0.185},
{"x":600,"a":0.043,"b":0.21,"c":0.385,"d":0.175}
],
"dR": [
{"x":0,"a":0.3,"b":0.39,"c":0.38,"d":0.35},{"x":5,"a":0.27,"b":0.42,"c":0.36,"d":0.3},{"x":10,"a":0.34,"b":0.3,"c":0.32,"d":0.34},{"x":15,"a":0.33,"b":0.34,"c":0.33,"d":0.31},{"x":20,"a":0.31,"b":0.31,"c":0.31,"d":0.32},{"x":25,"a":0.32,"b":0.31,"c":0.3,"d":0.29},{"x":30,"a":0.29,"b":0.28,"c":0.3,"d":0.3},{"x":35,"a":0.29,"b":0.3,"c":0.27,"d":0.27},{"x":40,"a":0.26,"b":0.25,"c":0.27,"d":0.28},{"x":45,"a":0.26,"b":0.27,"c":0.25,"d":0.25},
{"x":50,"a":0.24,"b":0.23,"c":0.24,"d":0.26},{"x":55,"a":0.235,"b":0.25,"c":0.23,"d":0.23},{"x":60,"a":0.22,"b":0.21,"c":0.22,"d":0.24},{"x":65,"a":0.22,"b":0.24,"c":0.21,"d":0.21},{"x":70,"a":0.205,"b":0.2,"c":0.21,"d":0.22},{"x":75,"a":0.205,"b":0.22,"c":0.2,"d":0.195},{"x":80,"a":0.19,"b":0.18,"c":0.19,"d":0.2},{"x":85,"a":0.19,"b":0.21,"c":0.19,"d":0.18},{"x":90,"a":0.178,"b":0.17,"c":0.18,"d":0.19},{"x":95,"a":0.178,"b":0.2,"c":0.17,"d":0.17},
{"x":100,"a":0.168,"b":0.16,"c":0.26,"d":0.18},{"x":105,"a":0.172,"b":0.19,"c":0.16,"d":0.16},{"x":110,"a":0.164,"b":0.155,"c":0.19,"d":0.175},{"x":115,"a":0.17,"b":0.185,"c":0.15,"d":0.155},{"x":120,"a":0.16,"b":0.15,"c":0.18,"d":0.17},{"x":125,"a":0.168,"b":0.18,"c":0.15,"d":0.15},{"x":130,"a":0.158,"b":0.15,"c":0.18,"d":0.165},{"x":135,"a":0.166,"b":0.18,"c":0.145,"d":0.145},{"x":140,"a":0.155,"b":0.145,"c":0.185,"d":0.162},{"x":145,"a":0.164,"b":0.18,"c":0.145,"d":0.142},
{"x":150,"a":0.152,"b":0.14,"c":0.18,"d":0.16},{"x":155,"a":0.16,"b":0.175,"c":0.14,"d":0.14},{"x":160,"a":0.146,"b":0.14,"c":0.175,"d":0.158},{"x":165,"a":0.152,"b":0.17,"c":0.135,"d":0.135},{"x":170,"a":0.14,"b":0.135,"c":0.17,"d":0.155},{"x":175,"a":0.146,"b":0.165,"c":0.13,"d":0.13},{"x":180,"a":0.132,"b":0.13,"c":0.165,"d":0.148},{"x":185,"a":0.138,"b":0.16,"c":0.125,"d":0.122},{"x":190,"a":0.125,"b":0.13,"c":0.16,"d":0.14},{"x":195,"a":0.132,"b":0.16,"c":0.122,"d":0.114},
{"x":200,"a":0.118,"b":0.128,"c":0.16,"d":0.132},{"x":205,"a":0.125,"b":0.16,"c":0.12,"d":0.11},{"x":210,"a":0.114,"b":0.125,"c":0.158,"d":0.13},{"x":215,"a":0.122,"b":0.165,"c":0.12,"d":0.108},{"x":220,"a":0.11,"b":0.13,"c":0.16,"d":0.128},{"x":225,"a":0.12,"b":0.165,"c":0.12,"d":0.106},{"x":230,"a":0.106,"b":0.13,"c":0.162,"d":0.127},{"x":235,"a":0.116,"b":0.17,"c":0.12,"d":0.105},{"x":240,"a":0.102,"b":0.13,"c":0.16,"d":0.126},{"x":245,"a":0.112,"b":0.17,"c":0.12,"d":0.104},
{"x":250,"a":0.098,"b":0.13,"c":0.158,"d":0.125},{"x":255,"a":0.108,"b":0.172,"c":0.118,"d":0.102},{"x":260,"a":0.094,"b":0.132,"c":0.155,"d":0.123},{"x":265,"a":0.104,"b":0.175,"c":0.118,"d":0.1},{"x":270,"a":0.09,"b":0.134,"c":0.155,"d":0.12},{"x":275,"a":0.1,"b":0.178,"c":0.116,"d":0.097},{"x":280,"a":0.085,"b":0.135,"c":0.154,"d":0.118},{"x":285,"a":0.094,"b":0.185,"c":0.116,"d":0.095},{"x":290,"a":0.08,"b":0.14,"c":0.155,"d":0.118},{"x":295,"a":0.09,"b":0.2,"c":0.116,"d":0.095},
{"x":300,"a":0.074,"b":0.15,"c":0.158,"d":0.118},{"x":305,"a":0.082,"b":0.19,"c":0.114,"d":0.094},{"x":310,"a":0.069,"b":0.14,"c":0.154,"d":0.118},{"x":315,"a":0.076,"b":0.18,"c":0.113,"d":0.093},{"x":320,"a":0.064,"b":0.135,"c":0.152,"d":0.117},{"x":325,"a":0.07,"b":0.175,"c":0.114,"d":0.095},{"x":330,"a":0.06,"b":0.13,"c":0.155,"d":0.12},{"x":335,"a":0.066,"b":0.175,"c":0.116,"d":0.097},{"x":340,"a":0.056,"b":0.13,"c":0.16,"d":0.123},{"x":345,"a":0.063,"b":0.18,"c":0.12,"d":0.1},
{"x":350,"a":0.054,"b":0.135,"c":0.165,"d":0.126},{"x":355,"a":0.062,"b":0.19,"c":0.122,"d":0.102},{"x":360,"a":0.053,"b":0.14,"c":0.17,"d":0.13},{"x":365,"a":0.062,"b":0.21,"c":0.124,"d":0.104},{"x":370,"a":0.053,"b":0.15,"c":0.175,"d":0.134},{"x":375,"a":0.063,"b":0.25,"c":0.125,"d":0.107},{"x":380,"a":0.054,"b":0.16,"c":0.18,"d":0.137},{"x":385,"a":0.064,"b":0.33,"c":0.13,"d":0.11},{"x":390,"a":0.054,"b":0.17,"c":0.19,"d":0.138},{"x":395,"a":0.064,"b":0.31,"c":0.13,"d":0.111},
{"x":400,"a":0.055,"b":0.19,"c":0.2,"d":0.14},{"x":405,"a":0.066,"b":0.27,"c":0.135,"d":0.113},{"x":410,"a":0.058,"b":0.17,"c":0.19,"d":0.142},{"x":415,"a":0.068,"b":0.25,"c":0.135,"d":0.114},{"x":420,"a":0.06,"b":0.16,"c":0.195,"d":0.143},{"x":425,"a":0.07,"b":0.26,"c":0.14,"d":0.114},{"x":430,"a":0.061,"b":0.17,"c":0.2,"d":0.143},{"x":435,"a":0.071,"b":0.27,"c":0.14,"d":0.113},{"x":440,"a":0.061,"b":0.17,"c":0.21,"d":0.142},{"x":445,"a":0.07,"b":0.29,"c":0.145,"d":0.113},
{"x":450,"a":0.061,"b":0.18,"c":0.215,"d":0.143},{"x":455,"a":0.07,"b":0.33,"c":0.145,"d":0.115},{"x":460,"a":0.059,"b":0.2,"c":0.22,"d":0.146},{"x":465,"a":0.068,"b":0.4,"c":0.15,"d":0.12},{"x":470,"a":0.057,"b":0.22,"c":0.23,"d":0.15},{"x":475,"a":0.066,"b":0.36,"c":0.14,"d":0.122},{"x":480,"a":0.055,"b":0.2,"c":0.2,"d":0.156},{"x":485,"a":0.064,"b":0.38,"c":0.12,"d":0.126},{"x":490,"a":0.054,"b":0.21,"c":0.19,"d":0.162},{"x":495,"a":0.062,"b":0.42,"c":0.115,"d":0.13},
{"x":500,"a":0.052,"b":0.24,"c":0.19,"d":0.168},{"x":505,"a":0.058,"b":0.44,"c":0.12,"d":0.135},{"x":510,"a":0.049,"b":0.26,"c":0.2,"d":0.178},{"x":515,"a":0.055,"b":0.5,"c":0.13,"d":0.14},{"x":520,"a":0.046,"b":0.28,"c":0.22,"d":0.19},{"x":525,"a":0.052,"b":0.6,"c":0.13,"d":0.15},{"x":530,"a":0.043,"b":0.34,"c":0.25,"d":0.2},{"x":535,"a":0.05,"b":0.78,"c":0.14,"d":0.16},{"x":540,"a":0.041,"b":0.38,"c":0.3,"d":0.21},{"x":545,"a":0.048,"b":0.6,"c":0.15,"d":0.17},
{"x":550,"a":0.04,"b":0.3,"c":0.32,"d":0.22},{"x":555,"a":0.046,"b":0.55,"c":0.16,"d":0.18},{"x":560,"a":0.039,"b":0.28,"c":0.36,"d":0.235},{"x":565,"a":0.045,"b":0.45,"c":0.14,"d":0.19},{"x":570,"a":0.039,"b":0.12,"c":0.32,"d":0.23},{"x":575,"a":0.045,"b":0.3,"c":0.45,"d":0.185},{"x":580,"a":0.039,"b":0.08,"c":0.18,"d":0.22},{"x":585,"a":0.045,"b":0.28,"c":0.42,"d":0.17},{"x":590,"a":0.039,"b":0.1,"c":0.58,"d":0.2},{"x":595,"a":0.046,"b":0.3,"c":0.25,"d":0.16},
{"x":600,"a":0.04,"b":0.24,"c":0.55,"d":0.19}
]
},
"hconcat": [
{
 "width": 270, "height": 188,
 "title": {"text": "(a)"},
 "encoding": {
  "x": {"field": "x", "type": "quantitative", "scale": {"domain": [-30, 630], "nice": false, "zero": false}, "axis": {"values": [0, 200, 400, 600], "title": null}},
  "y": {"field": "y", "type": "quantitative", "scale": {"domain": [-0.000114, 0.002571], "nice": false, "zero": false}, "axis": {"values": [0, 0.001, 0.002], "labelExpr": "datum.value < 0.0005 ? '0' : datum.value < 0.0015 ? '1e-3' : '2e-3'", "title": "Clip Frac", "titleX": -49, "titleY": 108, "titleAngle": 270, "titleBaseline": "alphabetic", "titleAlign": "center"}}
 },
 "layer": [
  {"data": {"name": "aR"}, "transform": [{"fold": ["a", "b", "c"], "as": ["k", "y"]}], "mark": {"type": "line", "strokeWidth": 1.5, "opacity": 0.3, "clip": true}, "encoding": {"color": {"field": "k", "type": "nominal", "scale": {"domain": ["a", "b", "c"], "range": ["#ff7f0e", "#2ca02c", "#d62728"]}, "legend": null}}},
  {"data": {"name": "aS"}, "transform": [{"fold": ["a", "b", "c"], "as": ["k", "y"]}], "mark": {"type": "line", "strokeWidth": 2, "clip": true}, "encoding": {"color": {"field": "k", "type": "nominal", "scale": {"domain": ["a", "b", "c"], "range": ["#ff7f0e", "#2ca02c", "#d62728"]}, "legend": null}}},
  {"data": {"name": "aS"}, "transform": [{"fold": ["a", "b", "c"], "as": ["k", "y"]}, {"filter": "datum.x % 100 == 0 && datum.x <= 500"}], "mark": {"type": "point", "filled": true, "size": 64, "opacity": 1}, "encoding": {"color": {"field": "k", "type": "nominal", "scale": {"domain": ["a", "b", "c"], "range": ["#ff7f0e", "#2ca02c", "#d62728"]}, "legend": null}, "shape": {"field": "k", "type": "nominal", "scale": {"domain": ["a", "b", "c"], "range": ["M1.05,0A1.05,1.05,0,1,1,-1.05,0A1.05,1.05,0,1,1,1.05,0Z", "M-0.92,-0.92H0.92V0.92H-0.92Z", "M0,-1.15L1.1,0.8H-1.1Z"]}, "legend": null}}},
  {"data": {"values": []}, "mark": {"type": "point", "filled": true, "opacity": 1}, "encoding": {
    "fill": {"field": "k", "type": "nominal", "scale": {"domain": ["a", "b", "c"], "range": ["#ff7f0e", "#2ca02c", "#d62728"]}, "legend": {"title": null, "orient": "none", "legendX": 83, "legendY": 7, "labelExpr": "datum.value == 'a' ? 'Clipℬ, μ = 2.0' : datum.value == 'b' ? 'Clipℬ, μ = 2.5' : 'Clipℬ, μ = 3.0'"}},
    "stroke": {"field": "k", "type": "nominal", "scale": {"domain": ["a", "b", "c"], "range": ["#ff7f0e", "#2ca02c", "#d62728"]}, "legend": {"title": null, "orient": "none", "legendX": 83, "legendY": 7, "labelExpr": "datum.value == 'a' ? 'Clipℬ, μ = 2.0' : datum.value == 'b' ? 'Clipℬ, μ = 2.5' : 'Clipℬ, μ = 3.0'"}},
    "shape": {"field": "k", "type": "nominal", "scale": {"domain": ["a", "b", "c"], "range": ["M-4.25,0H4.25M1.05,0A1.05,1.05,0,1,1,-1.05,0A1.05,1.05,0,1,1,1.05,0Z", "M-4.25,0H4.25M-0.92,-0.92H0.92V0.92H-0.92Z", "M-4.25,0H4.25M0,-1.15L1.1,0.8H-1.1Z"]}, "legend": {"title": null, "orient": "none", "legendX": 83, "legendY": 7, "labelExpr": "datum.value == 'a' ? 'Clipℬ, μ = 2.0' : datum.value == 'b' ? 'Clipℬ, μ = 2.5' : 'Clipℬ, μ = 3.0'"}}}}
 ],
 "resolve": {"scale": {"shape": "independent", "fill": "independent", "stroke": "independent"}}
},
{
 "width": 270, "height": 188,
 "title": {"text": "(b)"},
 "encoding": {
  "x": {"field": "x", "type": "quantitative", "scale": {"domain": [-30, 630], "nice": false, "zero": false}, "axis": {"values": [0, 200, 400, 600], "title": "Training Step", "titleX": 272, "titleY": 38.5, "titleBaseline": "alphabetic", "titleAlign": "center"}},
  "y": {"field": "y", "type": "quantitative", "scale": {"domain": [-0.0000516, 0.001161], "nice": false, "zero": false}, "axis": {"values": [0, 0.00025, 0.0005, 0.00075, 0.001], "labelExpr": "datum.value < 0.0001 ? '0' : datum.value < 0.0004 ? '2e-4' : datum.value < 0.0006 ? '5e-4' : datum.value < 0.0009 ? '8e-4' : '1e-3'", "title": null}}
 },
 "layer": [
  {"data": {"name": "bR"}, "transform": [{"fold": ["a", "b", "c"], "as": ["k", "y"]}], "mark": {"type": "line", "strokeWidth": 1.5, "opacity": 0.3, "clip": true}, "encoding": {"color": {"field": "k", "type": "nominal", "scale": {"domain": ["a", "b", "c"], "range": ["#ff7f0e", "#2ca02c", "#d62728"]}, "legend": null}}},
  {"data": {"name": "bS"}, "transform": [{"fold": ["a", "b", "c"], "as": ["k", "y"]}], "mark": {"type": "line", "strokeWidth": 2, "clip": true}, "encoding": {"color": {"field": "k", "type": "nominal", "scale": {"domain": ["a", "b", "c"], "range": ["#ff7f0e", "#2ca02c", "#d62728"]}, "legend": null}}},
  {"data": {"name": "bS"}, "transform": [{"fold": ["a", "b", "c"], "as": ["k", "y"]}, {"filter": "datum.x % 100 == 0 && datum.x <= 500"}], "mark": {"type": "point", "filled": true, "size": 64, "opacity": 1}, "encoding": {"color": {"field": "k", "type": "nominal", "scale": {"domain": ["a", "b", "c"], "range": ["#ff7f0e", "#2ca02c", "#d62728"]}, "legend": null}, "shape": {"field": "k", "type": "nominal", "scale": {"domain": ["a", "b", "c"], "range": ["M1.05,0A1.05,1.05,0,1,1,-1.05,0A1.05,1.05,0,1,1,1.05,0Z", "M-0.92,-0.92H0.92V0.92H-0.92Z", "M0,-1.15L1.1,0.8H-1.1Z"]}, "legend": null}}},
  {"data": {"values": []}, "mark": {"type": "point", "filled": true, "opacity": 1}, "encoding": {
    "fill": {"field": "k", "type": "nominal", "scale": {"domain": ["a", "b", "c"], "range": ["#ff7f0e", "#2ca02c", "#d62728"]}, "legend": {"title": null, "orient": "none", "legendX": 9, "legendY": 9, "labelExpr": "datum.value == 'a' ? 'Clip𝒱, μ = 7.5' : datum.value == 'b' ? 'Clip𝒱, μ = 8.0' : 'Clip𝒱, μ = 8.5'"}},
    "stroke": {"field": "k", "type": "nominal", "scale": {"domain": ["a", "b", "c"], "range": ["#ff7f0e", "#2ca02c", "#d62728"]}, "legend": {"title": null, "orient": "none", "legendX": 9, "legendY": 9, "labelExpr": "datum.value == 'a' ? 'Clip𝒱, μ = 7.5' : datum.value == 'b' ? 'Clip𝒱, μ = 8.0' : 'Clip𝒱, μ = 8.5'"}},
    "shape": {"field": "k", "type": "nominal", "scale": {"domain": ["a", "b", "c"], "range": ["M-4.25,0H4.25M1.05,0A1.05,1.05,0,1,1,-1.05,0A1.05,1.05,0,1,1,1.05,0Z", "M-4.25,0H4.25M-0.92,-0.92H0.92V0.92H-0.92Z", "M-4.25,0H4.25M0,-1.15L1.1,0.8H-1.1Z"]}, "legend": {"title": null, "orient": "none", "legendX": 9, "legendY": 9, "labelExpr": "datum.value == 'a' ? 'Clip𝒱, μ = 7.5' : datum.value == 'b' ? 'Clip𝒱, μ = 8.0' : 'Clip𝒱, μ = 8.5'"}}}}
 ],
 "resolve": {"scale": {"shape": "independent", "fill": "independent", "stroke": "independent"}}
},
{
 "width": 270, "height": 188,
 "title": {"text": "(c)"},
 "encoding": {
  "x": {"field": "x", "type": "quantitative", "scale": {"domain": [-30, 630], "nice": false, "zero": false}, "axis": {"values": [0, 200, 400, 600], "title": null}},
  "y": {"field": "y", "type": "quantitative", "scale": {"domain": [-0.002, 0.866], "nice": false, "zero": false}, "axis": {"values": [0, 0.2, 0.4, 0.6, 0.8], "format": ".1f", "title": "Entropy", "titleX": -51, "titleY": 102, "titleAngle": 270, "titleBaseline": "alphabetic", "titleAlign": "center"}}
 },
 "layer": [
  {"data": {"name": "cR"}, "transform": [{"fold": ["a", "b", "c", "d"], "as": ["k", "y"]}], "mark": {"type": "line", "strokeWidth": 1.5, "opacity": 0.3, "clip": true}, "encoding": {"color": {"field": "k", "type": "nominal", "scale": {"domain": ["a", "b", "c", "d"], "range": ["#1f77b4", "#ff7f0e", "#2ca02c", "#d62728"]}, "legend": null}}},
  {"data": {"name": "cS"}, "transform": [{"fold": ["a", "b", "c", "d"], "as": ["k", "y"]}], "mark": {"type": "line", "strokeWidth": 2, "clip": true}, "encoding": {"color": {"field": "k", "type": "nominal", "scale": {"domain": ["a", "b", "c", "d"], "range": ["#1f77b4", "#ff7f0e", "#2ca02c", "#d62728"]}, "legend": null}}},
  {"data": {"name": "cS"}, "transform": [{"fold": ["a", "b", "c", "d"], "as": ["k", "y"]}, {"filter": "datum.x % 100 == 0 && datum.x <= 500"}], "mark": {"type": "point", "filled": true, "size": 64, "opacity": 1}, "encoding": {"color": {"field": "k", "type": "nominal", "scale": {"domain": ["a", "b", "c", "d"], "range": ["#1f77b4", "#ff7f0e", "#2ca02c", "#d62728"]}, "legend": null}, "shape": {"field": "k", "type": "nominal", "scale": {"domain": ["a", "b", "c", "d"], "range": ["M1.05,0A1.05,1.05,0,1,1,-1.05,0A1.05,1.05,0,1,1,1.05,0Z", "M-0.92,-0.92H0.92V0.92H-0.92Z", "M0,-1.15L1.1,0.8H-1.1Z", "M0,-1.3L1.3,0L0,1.3L-1.3,0Z"]}, "legend": null}}},
  {"data": {"values": []}, "mark": {"type": "point", "filled": true, "opacity": 1}, "encoding": {
    "fill": {"field": "k", "type": "nominal", "scale": {"domain": ["a", "b", "c", "d"], "range": ["#1f77b4", "#ff7f0e", "#2ca02c", "#d62728"]}, "legend": {"title": null, "orient": "none", "legendX": 8, "legendY": 9, "labelExpr": "datum.value == 'a' ? 'Baseline' : datum.value == 'b' ? 'Clipℬ, μ = 2.0' : datum.value == 'c' ? 'Clipℬ, μ = 2.5' : 'Clipℬ, μ = 3.0'"}},
    "stroke": {"field": "k", "type": "nominal", "scale": {"domain": ["a", "b", "c", "d"], "range": ["#1f77b4", "#ff7f0e", "#2ca02c", "#d62728"]}, "legend": {"title": null, "orient": "none", "legendX": 8, "legendY": 9, "labelExpr": "datum.value == 'a' ? 'Baseline' : datum.value == 'b' ? 'Clipℬ, μ = 2.0' : datum.value == 'c' ? 'Clipℬ, μ = 2.5' : 'Clipℬ, μ = 3.0'"}},
    "shape": {"field": "k", "type": "nominal", "scale": {"domain": ["a", "b", "c", "d"], "range": ["M-4.25,0H4.25M1.05,0A1.05,1.05,0,1,1,-1.05,0A1.05,1.05,0,1,1,1.05,0Z", "M-4.25,0H4.25M-0.92,-0.92H0.92V0.92H-0.92Z", "M-4.25,0H4.25M0,-1.15L1.1,0.8H-1.1Z", "M-4.25,0H4.25M0,-1.3L1.3,0L0,1.3L-1.3,0Z"]}, "legend": {"title": null, "orient": "none", "legendX": 8, "legendY": 9, "labelExpr": "datum.value == 'a' ? 'Baseline' : datum.value == 'b' ? 'Clipℬ, μ = 2.0' : datum.value == 'c' ? 'Clipℬ, μ = 2.5' : 'Clipℬ, μ = 3.0'"}}}}
 ],
 "resolve": {"scale": {"shape": "independent", "fill": "independent", "stroke": "independent"}}
},
{
 "width": 270, "height": 188,
 "title": {"text": "(d)", "offset": 0},
 "encoding": {
  "x": {"field": "x", "type": "quantitative", "scale": {"domain": [-30, 630], "nice": false, "zero": false}, "axis": {"values": [0, 200, 400, 600], "title": null}},
  "y": {"field": "y", "type": "quantitative", "scale": {"domain": [0, 0.81], "nice": false, "zero": false}, "axis": {"values": [0, 0.2, 0.4, 0.6, 0.8], "format": ".1f", "title": null}}
 },
 "layer": [
  {"data": {"name": "dR"}, "transform": [{"fold": ["a", "b", "c", "d"], "as": ["k", "y"]}], "mark": {"type": "line", "strokeWidth": 1.5, "opacity": 0.3, "clip": true}, "encoding": {"color": {"field": "k", "type": "nominal", "scale": {"domain": ["a", "b", "c", "d"], "range": ["#1f77b4", "#ff7f0e", "#2ca02c", "#d62728"]}, "legend": null}}},
  {"data": {"name": "dS"}, "transform": [{"fold": ["a", "b", "c", "d"], "as": ["k", "y"]}], "mark": {"type": "line", "strokeWidth": 2, "clip": true}, "encoding": {"color": {"field": "k", "type": "nominal", "scale": {"domain": ["a", "b", "c", "d"], "range": ["#1f77b4", "#ff7f0e", "#2ca02c", "#d62728"]}, "legend": null}}},
  {"data": {"name": "dS"}, "transform": [{"fold": ["a", "b", "c", "d"], "as": ["k", "y"]}, {"filter": "datum.x % 100 == 0 && datum.x <= 500"}], "mark": {"type": "point", "filled": true, "size": 64, "opacity": 1}, "encoding": {"color": {"field": "k", "type": "nominal", "scale": {"domain": ["a", "b", "c", "d"], "range": ["#1f77b4", "#ff7f0e", "#2ca02c", "#d62728"]}, "legend": null}, "shape": {"field": "k", "type": "nominal", "scale": {"domain": ["a", "b", "c", "d"], "range": ["M1.05,0A1.05,1.05,0,1,1,-1.05,0A1.05,1.05,0,1,1,1.05,0Z", "M-0.92,-0.92H0.92V0.92H-0.92Z", "M0,-1.15L1.1,0.8H-1.1Z", "M0,-1.3L1.3,0L0,1.3L-1.3,0Z"]}, "legend": null}}},
  {"data": {"values": []}, "mark": {"type": "point", "filled": true, "opacity": 1}, "encoding": {
    "fill": {"field": "k", "type": "nominal", "scale": {"domain": ["a", "b", "c", "d"], "range": ["#1f77b4", "#ff7f0e", "#2ca02c", "#d62728"]}, "legend": {"title": null, "orient": "none", "legendX": 51, "legendY": 9, "labelExpr": "datum.value == 'a' ? 'Baseline' : datum.value == 'b' ? 'Clip𝒱, μ = 7.5' : datum.value == 'c' ? 'Clip𝒱, μ = 8.0' : 'Clip𝒱, μ = 8.5'"}},
    "stroke": {"field": "k", "type": "nominal", "scale": {"domain": ["a", "b", "c", "d"], "range": ["#1f77b4", "#ff7f0e", "#2ca02c", "#d62728"]}, "legend": {"title": null, "orient": "none", "legendX": 51, "legendY": 9, "labelExpr": "datum.value == 'a' ? 'Baseline' : datum.value == 'b' ? 'Clip𝒱, μ = 7.5' : datum.value == 'c' ? 'Clip𝒱, μ = 8.0' : 'Clip𝒱, μ = 8.5'"}},
    "shape": {"field": "k", "type": "nominal", "scale": {"domain": ["a", "b", "c", "d"], "range": ["M-4.25,0H4.25M1.05,0A1.05,1.05,0,1,1,-1.05,0A1.05,1.05,0,1,1,1.05,0Z", "M-4.25,0H4.25M-0.92,-0.92H0.92V0.92H-0.92Z", "M-4.25,0H4.25M0,-1.15L1.1,0.8H-1.1Z", "M-4.25,0H4.25M0,-1.3L1.3,0L0,1.3L-1.3,0Z"]}, "legend": {"title": null, "orient": "none", "legendX": 51, "legendY": 9, "labelExpr": "datum.value == 'a' ? 'Baseline' : datum.value == 'b' ? 'Clip𝒱, μ = 7.5' : datum.value == 'c' ? 'Clip𝒱, μ = 8.0' : 'Clip𝒱, μ = 8.5'"}}}}
 ],
 "resolve": {"scale": {"shape": "independent", "fill": "independent", "stroke": "independent"}}
}
],
"resolve": {"scale": {"color": "independent", "shape": "independent", "fill": "independent", "stroke": "independent"}}
}
